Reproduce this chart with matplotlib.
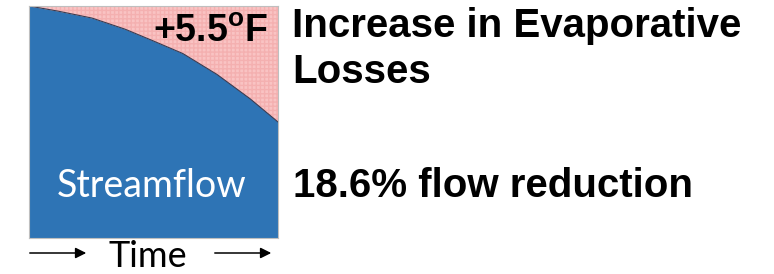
import matplotlib.pyplot as plt

# streamflow curve (fraction of time, fraction of flow)
time_frac = [0.0, 0.116, 0.253, 0.386, 0.498, 0.618, 0.755, 0.888, 1.0]
flow_frac = [1.0, 0.978, 0.948, 0.90, 0.85, 0.795, 0.705, 0.60, 0.5]

warming_label = "+5.5"
headline_lines = ["Increase in Evaporative", "Losses"]
reduction_label = "18.6% flow reduction"

W, H = 774, 274
fig = plt.figure(figsize=(W / 100, H / 100), dpi=100)


def px(x, y):
    return x / W, 1 - y / H


# box with the streamflow area
ax = fig.add_axes([29 / W, (H - 238) / H, 249 / W, 232 / H])
ax.set_xlim(0, 1)
ax.set_ylim(0, 1)
ax.fill_between(time_frac, flow_frac, 1, facecolor="#F9C3C3", edgecolor="#F4B0B0",
                hatch="++++", linewidth=0)
ax.fill_between(time_frac, 0, flow_frac, color="#2E74B5", linewidth=0)
ax.plot(time_frac, flow_frac, color="#3A3A50", lw=0.8)
ax.set_xticks([])
ax.set_yticks([])
for sp in ax.spines.values():
    sp.set_color("#BFBFBF")
    sp.set_linewidth(0.8)

plt.rcParams["mathtext.fontset"] = "custom"
plt.rcParams["mathtext.bf"] = "Liberation Sans:bold"
plt.rcParams["mathtext.rm"] = "Liberation Sans:bold"

fig.text(*px(268, 42), warming_label + r"$^{\mathbf{o}}$" + "F", ha="right", va="baseline",
         fontsize=27, fontweight="bold", family="Liberation Sans", color="black")

fig.text(*px(152, 197), "Streamflow", ha="center", va="baseline", fontsize=27,
         family="Lato", color="white")

fig.text(*px(148, 267), "Time", ha="center", va="baseline", fontsize=26,
         family="Lato", color="black")

arrow = dict(arrowstyle="-|>", color="black", lw=1.1, mutation_scale=16)
ax.annotate("", xy=px(89, 253), xytext=px(27, 253), xycoords="figure fraction",
            textcoords="figure fraction", arrowprops=arrow, annotation_clip=False)
ax.annotate("", xy=px(274, 253), xytext=px(212, 253), xycoords="figure fraction",
            textcoords="figure fraction", arrowprops=arrow, annotation_clip=False)

for line, base in zip(headline_lines, [37, 83]):
    fig.text(*px(292, base), line, ha="left", va="baseline", fontsize=29,
             fontweight="bold", family="Liberation Sans")
fig.text(*px(293, 197), reduction_label, ha="left", va="baseline", fontsize=29,
         fontweight="bold", family="Liberation Sans")

plt.savefig("out.png", dpi=100)
